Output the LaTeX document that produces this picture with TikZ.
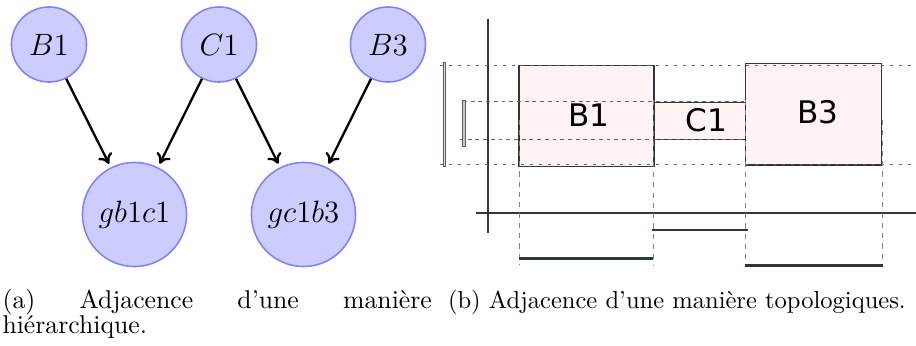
\documentclass[tikz,border=0pt]{standalone}
\usepackage{fontspec}
\usetikzlibrary{arrows.meta}
\newfontfamily\djv{DejaVu Sans}
\definecolor{dark}{RGB}{46,56,56}
\definecolor{dgray}{RGB}{95,100,100}
\begin{document}
\begin{tikzpicture}[x=0.389pt,y=-0.389pt,
  vtx/.style={circle,draw=blue!50,fill=blue!20,line width=0.6pt,inner sep=0pt,font=\fontsize{12}{14}\selectfont},
  smallv/.style={vtx,minimum size=29.2pt},
  bigv/.style={vtx,minimum size=40.5pt},
  arr/.style={-{To[length=3.8pt,width=6pt]},line width=0.9pt,shorten >=1.5pt},
  axis/.style={draw=dark,line width=0.8pt},
  boxst/.style={draw=dark,line width=0.55pt,fill=red!5},
  dotl/.style={draw=dgray,line width=0.55pt,dash pattern=on 1.2pt off 2.3pt},
  fdash/.style={draw=dgray,line width=0.35pt,dash pattern=on 1.5pt off 1.5pt},
  vdash/.style={draw=dgray!80,line width=0.35pt,dash pattern=on 2pt off 2pt},
  seg/.style={draw=dark,line width=1.1pt},
  lbl/.style={inner sep=0pt,font=\djv\fontsize{12.1}{14}\selectfont},
  captext/.style={anchor=base west,inner sep=0pt,font=\fontsize{10}{9.4}\selectfont}]
\useasboundingbox (0,0) rectangle (916,346);
% (a) hierarchical graph
\node[smallv] (B1) at (49,44.5) {$B1$};
\node[smallv] (C1) at (219,44.5) {$C1$};
\node[smallv] (B3) at (388,44.5) {$B3$};
\node[bigv] (g1) at (134.5,214.5) {$gb1c1$};
\node[bigv] (g2) at (303.5,214.5) {$gc1b3$};
\draw[arr] (B1) -- (g1);
\draw[arr] (C1) -- (g1);
\draw[arr] (C1) -- (g2);
\draw[arr] (B3) -- (g2);
% (b) topological view
\draw[axis] (488.3,19) -- (488.3,233);
\draw[axis] (475.7,213.3) -- (916,213.3);
\draw[boxst] (519,65.7) rectangle (654,166.7);
\draw[boxst] (654,102.7) rectangle (745.3,139.7);
\draw[boxst] (745.3,63.7) rectangle (881.7,165);
\draw[dotl] (440,65.3) -- (916,65.3);
\draw[dotl] (440,164.5) -- (916,164.5);
\draw[fdash] (463,101.3) -- (745,101.3);
\draw[fdash] (460,139.7) -- (745,139.7);
\draw[vdash] (519.3,120) -- (519.3,265.5);
\draw[vdash] (653.5,100) -- (653.5,265.5);
\draw[vdash] (745.3,100) -- (745.3,265.5);
\draw[vdash] (882.5,120) -- (882.5,265.5);
\draw[draw=dark!80,line width=0.35pt,fill=red!20] (443.1,62) rectangle (445.7,166);
\draw[draw=dark!80,line width=0.35pt,fill=gray!45] (462.4,100) rectangle (465.2,146);
\draw[seg] (519,258.3) -- (653,258.3);
\draw[seg] (652,230) -- (748,230);
\draw[seg] (745,265.7) -- (883,265.7);
\node[lbl] (tB1) at (588.7,114.7) {B1};
\node[lbl] (tC1) at (706.7,120.3) {C1};
\node[lbl] (tB3) at (818,112) {B3};
% captions
\node[captext] (capa) at (2,309) {\parbox[t]{167pt}{\fontsize{10}{9.6}\selectfont\hyphenpenalty=10000 (a) Adjacence d’une manière hiérarchique.}};
\node[captext,font=\fontsize{9.55}{11}\selectfont] (capb) at (447.5,309) {(b) Adjacence d’une manière topologiques.};
\end{tikzpicture}
\end{document}
